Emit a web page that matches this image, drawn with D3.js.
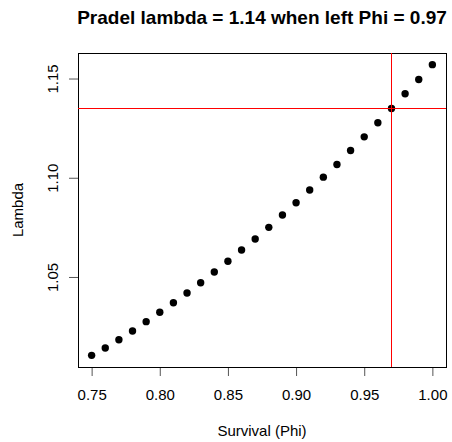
<!DOCTYPE html>
<html>
<head>
<meta charset="utf-8">
<script src="https://cdn.jsdelivr.net/npm/d3@7"></script>
<style>
  body { margin: 0; background: #fff; }
  text { font-family: 'Liberation Sans', Arial, sans-serif; }
</style>
</head>
<body>
<div id="chart"></div>
<script>
var phi = [0.75, 0.76, 0.77, 0.78, 0.79, 0.80, 0.81, 0.82, 0.83, 0.84, 0.85, 0.86, 0.87,
    0.88, 0.89, 0.90, 0.91, 0.92, 0.93, 0.94, 0.95, 0.96, 0.97, 0.98, 0.99, 1.00];
var lambda = [1.0105, 1.0142, 1.0184, 1.0228, 1.0275, 1.0322, 1.0370, 1.0419, 1.0471,
    1.0525, 1.0579, 1.0636, 1.0691, 1.0750, 1.0812, 1.0874, 1.0938, 1.1003, 1.1067,
    1.1137, 1.1206, 1.1277, 1.1349, 1.1423, 1.1495, 1.1570];
var xTicks = [0.75, 0.80, 0.85, 0.90, 0.95, 1.00];
var yTicks = [1.05, 1.10, 1.15];
var markPhi = 0.97, markLambda = 1.1352;

var width = 452, height = 442;
var margin = { top: 53, right: 6, bottom: 75, left: 78 };
var w = width - margin.left - margin.right,
    h = height - margin.top - margin.bottom;

var svg = d3.select("#chart").append("svg")
    .attr("width", width)
    .attr("height", height);

// R style 4% padding on the data range
function pad(ext) {
    var r = ext[1] - ext[0];
    return [ext[0] - 0.04 * r, ext[1] + 0.04 * r];
}
var x = d3.scaleLinear().domain(pad(d3.extent(phi))).range([0, w]);
var y = d3.scaleLinear().domain(pad(d3.extent(lambda))).range([h, 0]);

var g = svg.append("g")
    .attr("transform", "translate(" + margin.left + "," + margin.top + ")");

// axes
var xAxis = g.append("g")
    .attr("transform", "translate(0," + h + ")")
    .call(d3.axisBottom(x).tickValues(xTicks).tickFormat(d3.format(".2f")).tickSize(9).tickPadding(13));
var yAxis = g.append("g")
    .call(d3.axisLeft(y).tickValues(yTicks).tickFormat(d3.format(".2f")).tickSize(9));
[xAxis, yAxis].forEach(function (a) {
    a.select(".domain").remove();
    a.selectAll("line").attr("stroke", "#555");
    a.selectAll("text").attr("font-size", 15).attr("fill", "#000")
        .style("font-family", "'Liberation Sans', Arial, sans-serif");
});
yAxis.selectAll("text")
    .attr("x", null)
    .attr("text-anchor", "middle")
    .attr("transform", "translate(-25,0) rotate(-90)")
    .attr("dy", "0.35em");

// frame
g.append("rect")
    .attr("x", 0.5).attr("y", 0.5)
    .attr("width", w).attr("height", h)
    .attr("fill", "none").attr("stroke", "#000").attr("stroke-width", 1);

// points
g.selectAll(".pt")
    .data(phi)
    .enter().append("circle")
    .attr("class", "pt")
    .attr("cx", function (d) { return x(d); })
    .attr("cy", function (d, i) { return y(lambda[i]); })
    .attr("r", 3.7)
    .attr("fill", "#000");

// red reference lines, drawn as thin filled rects
g.append("rect")
    .attr("x", Math.round(x(markPhi)))
    .attr("y", 0).attr("width", 1.2).attr("height", h)
    .attr("fill", "#ff0000")
    .attr("shape-rendering", "crispEdges");
g.append("rect")
    .attr("x", 0).attr("y", Math.round(y(markLambda)))
    .attr("width", w).attr("height", 1.2)
    .attr("fill", "#ff0000")
    .attr("shape-rendering", "crispEdges");

// labels
svg.append("text")
    .attr("x", 262).attr("y", 24)
    .attr("text-anchor", "middle")
    .attr("font-size", 19).attr("font-weight", "bold")
    .text("Pradel lambda = 1.14 when left Phi = 0.97");
svg.append("text")
    .attr("x", 262).attr("y", 436)
    .attr("text-anchor", "middle")
    .attr("font-size", 15)
    .text("Survival (Phi)");
svg.append("text")
    .attr("transform", "translate(23," + (margin.top + h / 2) + ") rotate(-90)")
    .attr("text-anchor", "middle")
    .attr("font-size", 15)
    .text("Lambda");
</script>
</body>
</html>
